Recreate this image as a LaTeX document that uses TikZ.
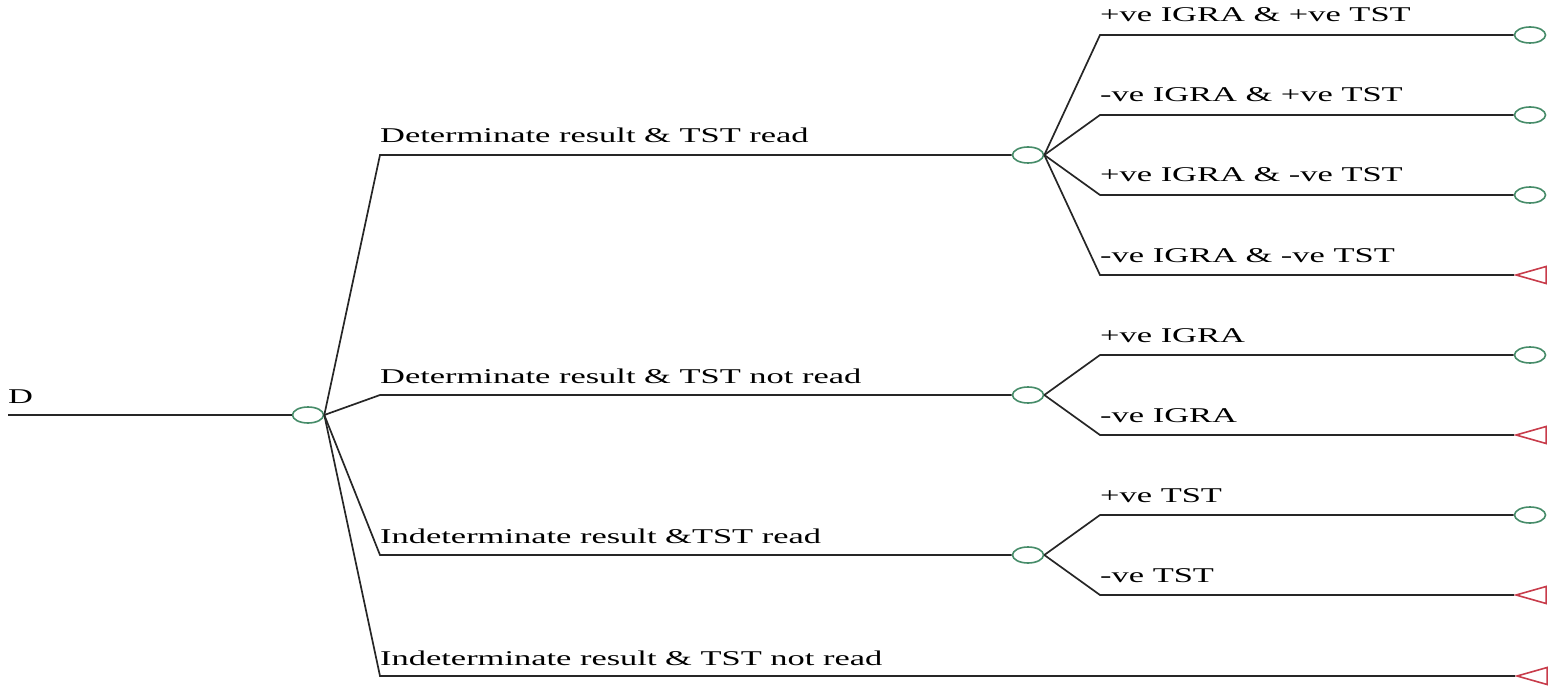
\documentclass[tikz,border=0pt]{standalone}
\usepackage{fontspec}
\usepackage{graphicx}
\setmainfont{Liberation Serif}
\usetikzlibrary{shapes.geometric}
\definecolor{chgreen}{RGB}{70,140,105}
\definecolor{tred}{RGB}{200,60,75}
\newcommand\lbltext[1]{\scalebox{1.64}[1]{#1}}
\tikzset{
  edge/.style={line width=1.7pt, draw=black!85},
  chance/.style={ellipse, draw=chgreen, line width=1.6pt, minimum width=31pt, minimum height=16pt, inner sep=0pt, fill=white},
  term/.style={isosceles triangle, shape border rotate=180, isosceles triangle stretches, draw=tred, line width=1.6pt, minimum height=30pt, minimum width=17pt, inner sep=0pt, anchor=apex},
  lbl/.style={anchor=base west, inner sep=0pt, font=\fontsize{21}{25}\selectfont}
}
\begin{document}
\begin{tikzpicture}[x=1pt,y=-1pt]
\useasboundingbox (0,0) rectangle (1551,687);
% root
\coordinate (start) at (8,415);
\node[chance] (root) at (308,415) {};
\node[lbl] (lD) at (8,403) {\lbltext{D}};
% first level corners
\coordinate (c1) at (380,155);
\coordinate (c2) at (380,395);
\coordinate (c3) at (380,555);
\coordinate (c4) at (380,676);
\node[chance] (n1) at (1028,155) {};
\node[chance] (n2) at (1028,395) {};
\node[chance] (n3) at (1028,555) {};
\node[term] (t4) at (1515,676) {};
\node[lbl] (l1) at (380,143) {\lbltext{Determinate result \& TST read}};
\node[lbl] (l2) at (380,383) {\lbltext{Determinate result \& TST not read}};
\node[lbl] (l3) at (380,543) {\lbltext{Indeterminate result \&TST read}};
\node[lbl] (l4) at (380,665) {\lbltext{Indeterminate result \& TST not read}};
% second level corners
\coordinate (d11) at (1100,35);
\coordinate (d12) at (1100,115);
\coordinate (d13) at (1100,195);
\coordinate (d14) at (1100,275);
\coordinate (d21) at (1100,355);
\coordinate (d22) at (1100,435);
\coordinate (d31) at (1100,515);
\coordinate (d32) at (1100,595);
% terminals
\node[chance] (e11) at (1530,35) {};
\node[chance] (e12) at (1530,115) {};
\node[chance] (e13) at (1530,195) {};
\node[term] (e14) at (1514,275) {};
\node[chance] (e21) at (1530,355) {};
\node[term] (e22) at (1514,435) {};
\node[chance] (e31) at (1530,515) {};
\node[term] (e32) at (1514,595) {};
% labels second level
\node[lbl] (m11) at (1100,22) {\lbltext{+ve IGRA \& +ve TST}};
\node[lbl] (m12) at (1100,102) {\lbltext{-ve IGRA \& +ve TST}};
\node[lbl] (m13) at (1100,182) {\lbltext{+ve IGRA \& -ve TST}};
\node[lbl] (m14) at (1100,262) {\lbltext{-ve IGRA \& -ve TST}};
\node[lbl] (m21) at (1100,342) {\lbltext{+ve IGRA}};
\node[lbl] (m22) at (1100,422) {\lbltext{-ve IGRA}};
\node[lbl] (m31) at (1100,502) {\lbltext{+ve TST}};
\node[lbl] (m32) at (1100,582) {\lbltext{-ve TST}};
% connectors
\draw[edge] (start) -- (root.west);
\draw[edge] (root.east) -- (c1) -- (n1.west);
\draw[edge] (root.east) -- (c2) -- (n2.west);
\draw[edge] (root.east) -- (c3) -- (n3.west);
\draw[edge] (root.east) -- (c4) -- (t4.apex);
\draw[edge] (n1.east) -- (d11) -- (e11.west);
\draw[edge] (n1.east) -- (d12) -- (e12.west);
\draw[edge] (n1.east) -- (d13) -- (e13.west);
\draw[edge] (n1.east) -- (d14) -- (e14.apex);
\draw[edge] (n2.east) -- (d21) -- (e21.west);
\draw[edge] (n2.east) -- (d22) -- (e22.apex);
\draw[edge] (n3.east) -- (d31) -- (e31.west);
\draw[edge] (n3.east) -- (d32) -- (e32.apex);
\end{tikzpicture}
\end{document}
